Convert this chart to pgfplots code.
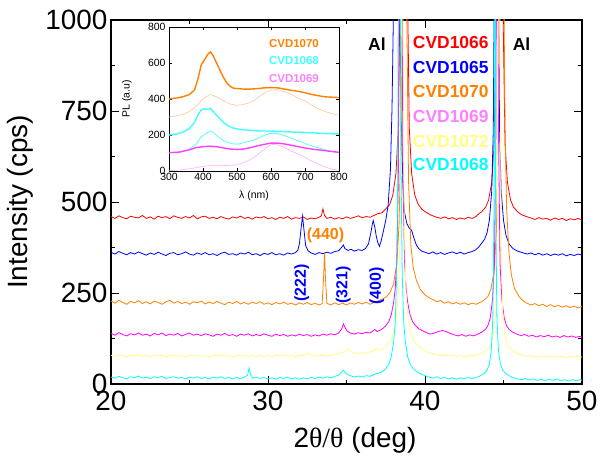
\documentclass[border=0pt]{standalone}
\usepackage{fontspec}
\setmainfont{Liberation Sans}
\newfontfamily\serif{Liberation Serif}
\usepackage{pgfplots}
\pgfplotsset{compat=1.18}
\definecolor{cred}{RGB}{255,0,0}
\definecolor{cblue}{RGB}{0,0,255}
\definecolor{corange}{RGB}{255,128,0}
\definecolor{cmag}{RGB}{255,0,255}
\definecolor{cmagl}{RGB}{255,128,255}
\definecolor{cyel}{RGB}{255,255,128}
\definecolor{ccyan}{RGB}{0,255,255}
\definecolor{cpeach}{RGB}{255,200,150}
\definecolor{cicyan}{RGB}{64,255,255}
\definecolor{cimag}{RGB}{255,64,255}
\definecolor{cipink}{RGB}{255,175,255}
\newcommand{\fbig}{\fontsize{28}{30}\selectfont}
\newcommand{\fleg}{\fontsize{17.5}{19}\selectfont\bfseries}
\newcommand{\fsmall}{\fontsize{10.5}{12}\selectfont}
\begin{document}
\begin{tikzpicture}
\useasboundingbox (-111bp,-78bp) rectangle (489bp,384bp);
\begin{axis}[
  at={(0,0)}, anchor=south west,
  scale only axis, width=471bp, height=364bp,
  xmin=20, xmax=50, ymin=0, ymax=1000,
  xtick={20,30,40,50}, ytick={0,250,500,750,1000},
  minor x tick num=1, minor y tick num=1,
  tick align=inside, major tick length=8bp, minor tick length=4bp,
  tick style={black, line width=0.9pt},
  axis line style={line width=1.2pt},
  tick label style={font=\fbig},
  xticklabel style={yshift=-4bp},
  /pgf/number format/assume math mode=true,
  /pgf/number format/1000 sep={},
  xlabel={2{\serif θ/θ} (deg)},
  ylabel={Intensity (cps)},
  every axis x label/.style={at={(axis description cs:0.518,-0.154)}, anchor=center, font=\fbig},
  every axis y label/.style={at={(axis description cs:-0.193,0.5)}, rotate=90, anchor=center, font=\fbig},
  every axis plot/.append style={line width=0.8pt},
]
% CVD1066 red
\addplot[cred] coordinates {(20,460)(20.25,455)(20.5,462)(20.75,457)(21,454)(21.25,461)(21.5,458)(21.75,456)(22,463)(22.25,455)(22.5,459)(22.75,453)(23,461)(23.25,457)(23.5,460)(23.75,454)(24,462)(24.25,458)(24.5,455)(24.75,460)(25,456)(25.25,463)(25.5,454)(25.75,459)(26,461)(26.25,455)(26.5,458)(26.75,454)(27,460)(27.25,456)(27.5,453)(27.75,459)(28,456)(28.25,461)(28.5,455)(28.75,458)(29,453)(29.25,459)(29.5,456)(29.75,460)(30,454)(30.25,457)(30.5,452)(30.75,458)(31,455)(31.25,460)(31.5,453)(31.75,457)(32,455)(32.25,459)(32.5,452)(32.75,456)(33,454)(33.25,458)(33.4,462)(33.5,481)(33.6,463)(33.75,455)(34,458)(34.25,453)(34.5,457)(34.75,454)(35,459)(35.25,455)(35.5,458)(35.75,462)(36,457)(36.25,460)(36.5,458)(36.75,463)(37,468)(37.25,470)(37.5,481)(37.75,493)(37.95,519)(38.15,578)(38.3,703)(38.45,1208)(38.57,3000)(38.65,3000)(38.73,3000)(38.85,1208)(39,703)(39.15,578)(39.35,519)(39.55,495)(39.8,480)(40.05,472)(40.3,466)(40.5,462)(40.75,458)(41,455)(41.25,459)(41.5,454)(41.75,457)(42,452)(42.25,456)(42.5,453)(42.75,458)(43,455)(43.25,460)(43.35,465)(43.6,473)(43.85,485)(44.05,505)(44.25,554)(44.4,658)(44.55,1079)(44.67,3000)(44.75,3000)(44.83,3000)(44.95,1079)(45.1,658)(45.25,554)(45.45,505)(45.65,485)(45.9,473)(46.15,465)(46.4,461)(46.75,456)(47,452)(47.25,457)(47.5,453)(47.75,455)(48,450)(48.25,456)(48.5,452)(48.75,455)(49,449)(49.25,454)(49.5,451)(49.75,455)(50,450)};
% CVD1065 blue
\addplot[cblue] coordinates {(20,362)(20.25,357)(20.5,364)(20.75,359)(21,355)(21.25,361)(21.5,357)(21.75,363)(22,358)(22.25,354)(22.5,360)(22.75,356)(23,362)(23.25,357)(23.5,353)(23.75,359)(24,361)(24.25,355)(24.5,358)(24.75,363)(25,357)(25.25,354)(25.5,360)(25.75,356)(26,361)(26.25,355)(26.5,358)(26.75,353)(27,359)(27.25,362)(27.5,356)(27.75,358)(28,354)(28.25,360)(28.5,357)(28.75,362)(29,355)(29.25,358)(29.5,353)(29.75,359)(30,356)(30.25,361)(30.5,355)(30.75,358)(31,354)(31.25,360)(31.5,357)(31.75,361)(31.9,368)(32.0,385)(32.1,425)(32.2,461)(32.3,420)(32.4,380)(32.55,366)(32.75,360)(33,356)(33.25,361)(33.5,358)(33.75,362)(34,359)(34.25,364)(34.5,366)(34.7,376)(34.8,382)(34.9,372)(35.1,367)(35.3,370)(35.5,365)(35.75,369)(36,367)(36.2,372)(36.4,385)(36.55,415)(36.65,440)(36.7,449)(36.8,432)(36.9,405)(37.0,388)(37.1,378)(37.2,392)(37.35,420)(37.5,450)(37.65,490)(37.8,590)(37.9,760)(38.0,1050)(38.1,3000)(38.25,3000)(38.4,1000)(38.5,700)(38.6,540)(38.7,470)(38.85,440)(39.0,428)(39.15,422)(39.3,400)(39.45,382)(39.6,372)(39.8,365)(40,362)(40.25,358)(40.5,363)(40.75,357)(41,361)(41.25,356)(41.5,360)(41.75,363)(42,358)(42.25,362)(42.5,357)(42.75,361)(43,364)(43.2,368)(43.4,375)(43.6,386)(43.8,398)(43.95,415)(44.1,450)(44.25,530)(44.35,700)(44.43,1200)(44.5,3000)(44.58,3000)(44.66,1200)(44.75,700)(44.85,530)(45.0,450)(45.15,410)(45.35,385)(45.6,372)(45.9,365)(46.2,361)(46.5,357)(46.75,360)(47,355)(47.25,359)(47.5,354)(47.75,358)(48,353)(48.25,357)(48.5,354)(48.75,358)(49,352)(49.25,356)(49.5,353)(49.75,357)(50,354)};
% CVD1070 orange
\addplot[corange] coordinates {(20,228)(20.25,222)(20.5,230)(20.75,224)(21,219)(21.25,227)(21.5,223)(21.75,229)(22,221)(22.25,226)(22.5,220)(22.75,228)(23,224)(23.25,219)(23.5,226)(23.75,230)(24,222)(24.25,227)(24.5,221)(24.75,225)(25,219)(25.25,226)(25.5,223)(25.75,228)(26,220)(26.25,225)(26.5,221)(26.75,227)(27,222)(27.25,218)(27.5,225)(27.75,221)(28,227)(28.25,220)(28.5,224)(28.75,219)(29,225)(29.25,221)(29.5,226)(29.75,219)(30,223)(30.25,218)(30.5,224)(30.75,220)(31,225)(31.25,219)(31.5,222)(31.75,217)(32,223)(32.25,219)(32.5,224)(32.75,218)(33,222)(33.25,217)(33.45,221)(33.55,300)(33.6,363)(33.65,300)(33.75,222)(34,217)(34.25,223)(34.5,218)(34.75,222)(35,217)(35.25,223)(35.5,219)(35.75,224)(36,220)(36.25,225)(36.5,219)(36.75,224)(37,228)(37.25,233)(37.5,238)(37.75,250)(38,275)(38.2,330)(38.35,440)(38.5,760)(38.6,3000)(38.72,3000)(38.82,1100)(38.95,560)(39.1,380)(39.25,320)(39.45,285)(39.7,260)(40,245)(40.25,237)(40.5,232)(40.75,226)(41,229)(41.25,222)(41.5,226)(41.75,220)(42,224)(42.25,219)(42.5,223)(42.75,218)(43,222)(43.25,219)(43.5,224)(43.75,230)(44,240)(44.2,260)(44.4,310)(44.55,420)(44.7,800)(44.8,3000)(44.92,3000)(45.0,1200)(45.1,700)(45.2,480)(45.35,360)(45.5,300)(45.7,262)(46,240)(46.25,228)(46.5,222)(46.75,217)(47,221)(47.25,215)(47.5,219)(47.75,213)(48,218)(48.25,212)(48.5,216)(48.75,211)(49,215)(49.25,210)(49.5,214)(49.75,209)(50,213)};
% CVD1069 magenta
\addplot[cmag] coordinates {(20,139)(20.25,134)(20.5,141)(20.75,136)(21,132)(21.25,138)(21.5,135)(21.75,140)(22,134)(22.25,137)(22.5,132)(22.75,139)(23,135)(23.25,140)(23.5,133)(23.75,137)(24,134)(24.25,139)(24.5,132)(24.75,136)(25,140)(25.25,134)(25.5,137)(25.75,133)(26,138)(26.25,135)(26.5,131)(26.75,137)(27,134)(27.25,139)(27.5,133)(27.75,136)(28,131)(28.25,137)(28.5,134)(28.75,138)(29,132)(29.25,136)(29.5,133)(29.75,138)(30,134)(30.25,131)(30.5,137)(30.75,133)(31,136)(31.25,131)(31.5,135)(31.75,132)(32,137)(32.25,133)(32.5,136)(32.75,131)(33,135)(33.25,132)(33.5,137)(33.75,134)(34,138)(34.25,135)(34.5,140)(34.7,152)(34.8,165)(34.9,156)(35.05,145)(35.25,140)(35.5,137)(35.75,141)(36,138)(36.25,142)(36.5,140)(36.7,146)(36.8,150)(36.95,144)(37.1,147)(37.3,152)(37.5,160)(37.7,172)(37.85,190)(38,223)(38.1,260)(38.2,335)(38.3,560)(38.38,1200)(38.45,3000)(38.52,1200)(38.6,560)(38.7,335)(38.8,260)(38.9,223)(39.05,190)(39.2,172)(39.4,160)(39.6,152)(39.85,146)(40.1,141)(40.35,137)(40.6,140)(40.85,144)(41.1,147)(41.35,144)(41.6,139)(41.85,135)(42.1,132)(42.35,136)(42.6,131)(42.85,135)(43.1,132)(43.35,137)(43.6,142)(43.85,150)(44.0,160)(44.15,180)(44.3,230)(44.42,330)(44.52,700)(44.6,3000)(44.68,700)(44.78,330)(44.9,230)(45.05,180)(45.2,160)(45.35,150)(45.6,142)(45.85,137)(46.1,133)(46.35,136)(46.6,131)(46.85,134)(47.1,129)(47.35,133)(47.6,130)(47.85,134)(48.1,129)(48.35,132)(48.6,128)(48.85,133)(49.1,129)(49.35,132)(49.6,128)(49.85,131)(50,129)};
% CVD1072 yellow
\addplot[cyel] coordinates {(20,79)(20.25,76)(20.5,80)(20.75,77)(21,75)(21.25,79)(21.5,77)(21.75,81)(22,76)(22.25,78)(22.5,75)(22.75,80)(23,77)(23.25,79)(23.5,75)(23.75,78)(24,80)(24.25,76)(24.5,78)(24.75,75)(25,79)(25.25,77)(25.5,80)(25.75,76)(26,78)(26.25,75)(26.5,79)(26.75,77)(27,80)(27.25,76)(27.5,78)(27.75,75)(28,79)(28.25,77)(28.5,80)(28.75,76)(29,78)(29.25,75)(29.5,79)(29.75,76)(30,78)(30.25,75)(30.5,79)(30.75,77)(31,80)(31.25,76)(31.5,78)(31.75,75)(32,79)(32.25,78)(32.5,84)(32.75,79)(33,76)(33.25,79)(33.5,77)(33.75,80)(34,78)(34.25,81)(34.5,83)(34.75,86)(35,92)(35.1,95)(35.25,89)(35.5,85)(35.75,84)(36,86)(36.25,84)(36.5,88)(36.75,93)(36.9,98)(37.05,92)(37.25,96)(37.5,103)(37.7,112)(37.9,128)(38.05,150)(38.2,190)(38.32,260)(38.42,440)(38.5,1000)(38.55,3000)(38.6,1000)(38.68,440)(38.78,260)(38.9,190)(39.05,150)(39.2,128)(39.4,112)(39.6,103)(39.8,96)(40.0,90)(40.25,86)(40.5,83)(40.75,80)(41,78)(41.25,80)(41.5,77)(41.75,79)(42,76)(42.25,78)(42.5,75)(42.75,79)(43,77)(43.25,80)(43.5,83)(43.75,88)(44,96)(44.2,110)(44.35,135)(44.5,200)(44.6,400)(44.67,1000)(44.72,3000)(44.77,1000)(44.85,400)(44.95,200)(45.1,135)(45.25,110)(45.45,96)(45.7,88)(45.95,83)(46.2,79)(46.5,76)(46.75,78)(47,75)(47.25,77)(47.5,74)(47.75,77)(48,75)(48.25,77)(48.5,74)(48.75,76)(49,73)(49.25,76)(49.5,74)(49.75,76)(50,74)};
% CVD1068 cyan
\addplot[ccyan] coordinates {(20,19)(20.25,16)(20.5,21)(20.75,17)(21,14)(21.25,20)(21.5,17)(21.75,22)(22,16)(22.25,19)(22.5,15)(22.75,20)(23,17)(23.25,21)(23.5,15)(23.75,18)(24,20)(24.25,16)(24.5,18)(24.75,14)(25,19)(25.25,16)(25.5,20)(25.75,15)(26,18)(26.25,14)(26.5,19)(26.75,16)(27,20)(27.25,15)(27.5,18)(27.75,14)(28,18)(28.25,15)(28.5,19)(28.7,24)(28.8,44)(28.9,24)(29.05,16)(29.25,19)(29.5,15)(29.75,18)(30,14)(30.25,17)(30.5,13)(30.75,18)(31,15)(31.25,19)(31.5,14)(31.75,17)(32,13)(32.25,17)(32.5,14)(32.75,18)(33,15)(33.25,19)(33.5,16)(33.75,20)(34,17)(34.25,21)(34.5,24)(34.7,33)(34.8,38)(34.9,32)(35.1,25)(35.3,22)(35.5,19)(35.75,22)(36,19)(36.25,23)(36.5,21)(36.75,26)(36.9,29)(37.1,30)(37.3,35)(37.5,42)(37.7,55)(37.85,75)(38.0,115)(38.1,165)(38.2,300)(38.27,600)(38.32,1500)(38.37,3000)(38.42,1500)(38.47,600)(38.55,300)(38.65,165)(38.75,115)(38.9,75)(39.05,55)(39.25,42)(39.45,35)(39.7,28)(40,23)(40.25,19)(40.5,16)(40.75,20)(41,15)(41.25,18)(41.5,14)(41.75,17)(42,13)(42.25,17)(42.5,14)(42.75,18)(43,15)(43.25,18)(43.5,22)(43.75,28)(43.95,38)(44.1,55)(44.22,90)(44.32,180)(44.4,500)(44.45,3000)(44.5,500)(44.58,180)(44.68,90)(44.8,55)(44.95,38)(45.15,28)(45.4,22)(45.65,17)(45.9,14)(46.15,12)(46.4,15)(46.65,11)(46.9,14)(47.15,10)(47.4,13)(47.65,9)(47.9,13)(48.15,10)(48.4,14)(48.65,9)(48.9,12)(49.15,8)(49.4,12)(49.65,9)(49.9,12)(50,10)};
% labels
\node[font=\fleg, anchor=center] at (axis cs:36.94,933) {Al};
\node[font=\fleg, anchor=center] at (axis cs:46.15,933) {Al};
\node[font=\fleg, text=cred, anchor=west, inner sep=0pt] at (axis cs:39.22,938) {CVD1066};
\node[font=\fleg, text=cblue, anchor=west, inner sep=0pt] at (axis cs:39.22,869) {CVD1065};
\node[font=\fleg, text=corange, anchor=west, inner sep=0pt] at (axis cs:39.22,803) {CVD1070};
\node[font=\fleg, text=cmagl, anchor=west, inner sep=0pt] at (axis cs:39.22,736) {CVD1069};
\node[font=\fleg, text=cyel, anchor=west, inner sep=0pt] at (axis cs:39.22,666) {CVD1072};
\node[font=\fleg, text=ccyan, anchor=west, inner sep=0pt] at (axis cs:39.22,602) {CVD1068};
\node[font=\fontsize{16}{18}\selectfont\bfseries, text=corange, anchor=center] at (axis cs:33.66,407) {(440)};
\node[font=\fontsize{16}{18}\selectfont\bfseries, text=cblue, rotate=90, anchor=center] at (axis cs:32.15,278) {(222)};
\node[font=\fontsize{16}{18}\selectfont\bfseries, text=cblue, rotate=90, anchor=center] at (axis cs:34.8,272) {(321)};
\node[font=\fontsize{16}{18}\selectfont\bfseries, text=cblue, rotate=90, anchor=center] at (axis cs:36.92,269) {(400)};
\end{axis}
% inset
\begin{axis}[
  at={(58bp,213bp)}, anchor=south west,
  scale only axis, width=170bp, height=144bp,
  axis background/.style={fill=white},
  xmin=300, xmax=800, ymin=0, ymax=800,
  xtick={300,400,...,800}, ytick={0,200,...,800},
  tick align=inside, major tick length=3bp,
  tick style={black, line width=0.6pt},
  axis line style={line width=0.7pt},
  tick label style={font=\fsmall},
  /pgf/number format/assume math mode=true,
  xticklabel style={yshift=1bp},
  every axis x label/.style={at={(axis description cs:0.5,-0.175)}, anchor=center, font=\fsmall},
  every axis y label/.style={at={(axis description cs:-0.247,0.5)}, rotate=90, anchor=center, font=\fsmall},
  xlabel={λ (nm)}, ylabel={PL (a.u)},
]
\addplot[corange, line width=1.4pt] coordinates {(300,400)(320,405)(340,412)(360,425)(375,450)(385,510)(395,590)(405,620)(415,650)(422,662)(430,640)(440,600)(450,560)(460,520)(470,490)(480,470)(490,460)(500,458)(520,455)(540,455)(560,458)(580,462)(600,463)(620,462)(640,455)(660,448)(680,443)(700,435)(720,425)(740,418)(760,412)(780,410)(800,408)};
\addplot[cpeach, line width=0.6pt] coordinates {(300,300)(320,305)(340,315)(360,330)(380,360)(400,400)(420,425)(440,412)(460,390)(480,372)(500,365)(520,370)(540,382)(560,405)(580,432)(600,450)(620,452)(640,440)(660,425)(680,405)(700,390)(720,365)(740,345)(760,330)(780,318)(800,310)};
\addplot[cicyan, line width=1.4pt] coordinates {(300,200)(320,205)(340,215)(360,235)(375,270)(385,310)(395,340)(405,345)(415,342)(422,348)(430,330)(440,310)(450,290)(460,270)(475,250)(490,238)(510,230)(540,226)(570,222)(600,222)(630,220)(660,217)(700,214)(740,210)(770,207)(800,206)};
\addplot[cicyan, line width=0.7pt] coordinates {(300,100)(320,102)(340,108)(360,120)(380,150)(395,190)(410,210)(420,222)(430,215)(445,190)(460,170)(475,158)(490,150)(505,150)(520,157)(540,168)(560,180)(580,198)(600,210)(615,210)(630,203)(650,190)(670,175)(690,160)(710,145)(740,128)(770,113)(800,102)};
\addplot[cimag, line width=1.4pt] coordinates {(300,102)(330,105)(360,118)(380,130)(400,135)(420,138)(440,135)(460,128)(480,122)(500,120)(520,122)(540,130)(560,140)(580,148)(600,155)(620,155)(640,150)(660,143)(680,135)(700,128)(720,122)(750,115)(780,108)(800,104)};
\addplot[cipink, line width=0.6pt] coordinates {(300,2)(330,5)(360,12)(390,22)(410,28)(430,30)(460,30)(490,32)(510,40)(530,55)(550,75)(570,105)(590,135)(605,148)(620,145)(640,130)(660,110)(680,95)(700,75)(720,55)(740,38)(760,22)(780,10)(800,4)};
\node[font=\fontsize{11.5}{13}\selectfont\bfseries, text=corange, anchor=west, inner sep=0pt] at (axis cs:594,709) {CVD1070};
\node[font=\fontsize{11.5}{13}\selectfont\bfseries, text=cicyan, anchor=west, inner sep=0pt] at (axis cs:594,611) {CVD1068};
\node[font=\fontsize{11.5}{13}\selectfont\bfseries, text=cmagl, anchor=west, inner sep=0pt] at (axis cs:594,515) {CVD1069};
\end{axis}
\end{tikzpicture}
\end{document}
